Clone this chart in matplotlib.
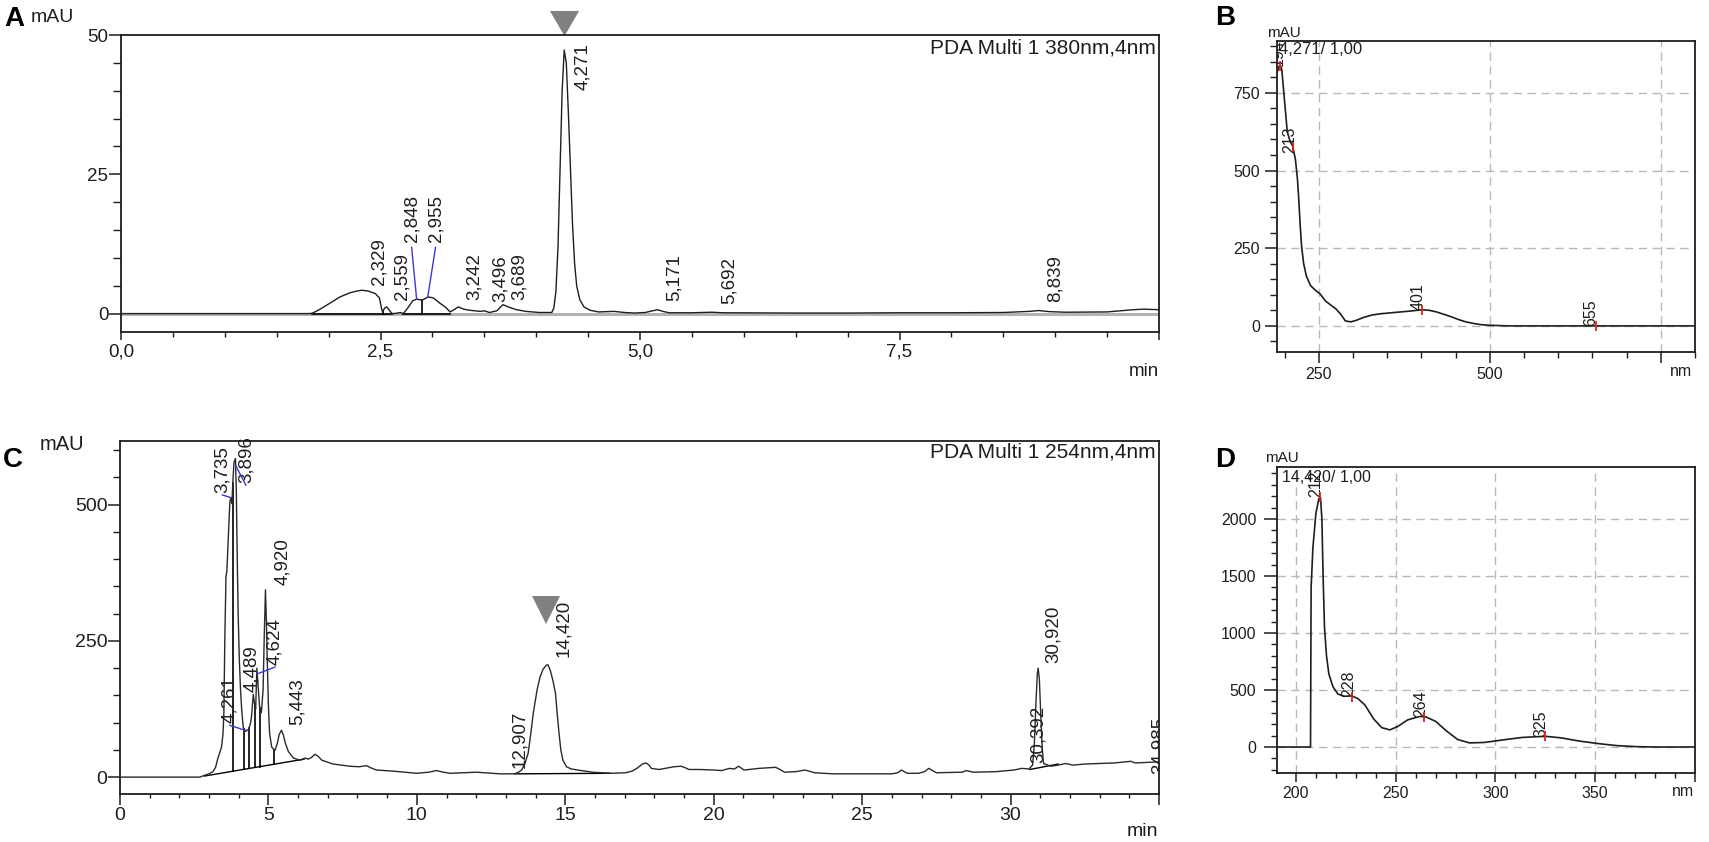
import numpy as np
import matplotlib
matplotlib.use("Agg")
import matplotlib.pyplot as plt
from matplotlib.ticker import MultipleLocator

plt.rcParams['font.family'] = ['Liberation Sans', 'DejaVu Sans']
plt.rcParams['axes.unicode_minus'] = False

# ---------------- DATA ----------------
# Panel A: chromatogram, PDA 380 nm (min, mAU)
A_time = [0.00, 1.00, 1.80, 1.84, 1.90, 1.98, 2.05, 2.11, 2.20, 2.26,
          2.32, 2.38, 2.45, 2.49, 2.51, 2.52, 2.54, 2.56, 2.59, 2.61,
          2.65, 2.69, 2.72, 2.77, 2.81, 2.85, 2.90, 2.96, 3.01, 3.07,
          3.13, 3.17, 3.20, 3.25, 3.30, 3.36, 3.46, 3.50, 3.55, 3.62,
          3.68, 3.73, 3.81, 3.90, 4.03, 4.12, 4.15, 4.17, 4.19, 4.21,
          4.23, 4.25, 4.27, 4.29, 4.31, 4.33, 4.35, 4.37, 4.39, 4.42,
          4.46, 4.52, 4.60, 4.75, 4.85, 4.95, 5.05, 5.12, 5.17, 5.22,
          5.28, 5.50, 5.69, 5.80, 6.50, 7.00, 7.50, 8.00, 8.50, 8.75,
          8.84, 8.95, 9.10, 9.50, 9.75, 9.85, 10.00]
A_signal = [0.0, 0.0, 0.0, 0.05, 0.6, 1.5, 2.3, 3.0, 3.7, 4.0,
            4.2, 4.05, 3.6, 2.8, 0.9, 0.3, 1.0, 1.2, 0.5, 0.0,
            0.05, 0.2, 0.0, 1.2, 2.3, 2.6, 2.4, 3.0, 2.8, 1.9,
            1.1, 0.3, 0.6, 1.2, 0.8, 0.6, 0.4, 0.5, 0.2, 0.5,
            1.6, 1.2, 0.7, 0.4, 0.2, 0.2, 0.2, 1.0, 4.0, 12.0,
            26.0, 40.0, 47.3, 45.0, 36.0, 26.0, 16.0, 9.0, 5.0, 2.5,
            1.2, 0.6, 0.3, 0.4, 0.2, 0.1, 0.2, 0.5, 0.7, 0.4,
            0.15, 0.15, 0.25, 0.15, 0.1, 0.1, 0.15, 0.15, 0.2, 0.4,
            0.55, 0.35, 0.25, 0.3, 0.7, 0.8, 0.7]
A_peak_rt = [2.329, 2.559, 2.848, 2.955, 3.242, 3.496, 3.689, 4.271, 5.171, 5.692, 8.839]
A_peak_text = ["2,329", "2,559", "2,848", "2,955", "3,242", "3,496", "3,689",
               "4,271", "5,171", "5,692", "8,839"]
A_marked_rt = 4.271
A_base_seg = [(1.84, 2.61), (2.72, 3.17)]
A_drop_t = [2.52, 2.90]
A_leader_idx = [2, 3]

# Panel B: UV spectrum of peak 4,271 (nm, mAU)
B_nm = [189, 192, 194, 196, 198, 201, 204, 208, 212, 216,
        219, 221, 223, 225, 228, 232, 238, 245, 252, 260,
        267, 275, 282, 289, 297, 305, 315, 328, 340, 355,
        370, 385, 401, 412, 422, 432, 443, 455, 465, 476,
        487, 500, 515, 530, 560, 600, 650, 700, 750, 800]
B_mau = [815, 836, 838, 825, 775, 700, 625, 595, 578, 535,
         470, 400, 320, 255, 200, 160, 130, 115, 103, 80,
         68, 55, 38, 16, 13, 18, 27, 35, 39, 42,
         45, 48, 52, 50, 45, 38, 30, 20, 13, 8,
         4, 2, 1, 0, 0, 0, 0, 0, 0, 0]
B_peak_nm = [194, 213, 401, 655]
B_peak_mau = [838, 576, 51, 0]
B_peak_text = ["194", "213", "401", "655"]

# Panel C: chromatogram, PDA 254 nm (min, mAU)
C_time = [0.0, 1.0, 2.0, 2.69, 2.83, 3.00, 3.13, 3.22, 3.30, 3.38,
          3.42, 3.47, 3.50, 3.53, 3.57, 3.60, 3.65, 3.70, 3.735, 3.77,
          3.80, 3.84, 3.89, 3.92, 3.95, 3.98, 4.02, 4.06, 4.10, 4.15,
          4.23, 4.28, 4.34, 4.40, 4.43, 4.47, 4.49, 4.53, 4.57, 4.61,
          4.65, 4.70, 4.76, 4.82, 4.86, 4.90, 4.93, 4.96, 5.00, 5.04,
          5.11, 5.22, 5.30, 5.36, 5.44, 5.50, 5.56, 5.67, 5.84, 6.06,
          6.15, 6.23, 6.34, 6.45, 6.57, 6.68, 6.80, 7.18, 7.74, 8.05,
          8.30, 8.45, 8.64, 9.20, 9.99, 10.40, 10.66, 10.90, 11.11, 12.01,
          12.80, 13.30, 13.42, 13.53, 13.64, 13.75, 13.85, 13.92, 14.05, 14.15,
          14.25, 14.37, 14.42, 14.50, 14.58, 14.67, 14.73, 14.79, 14.85, 14.92,
          15.04, 15.20, 15.42, 15.92, 16.54, 17.04, 17.25, 17.41, 17.60, 17.72,
          17.82, 17.90, 18.16, 18.45, 18.66, 18.90, 19.05, 19.16, 19.53, 20.02,
          20.27, 20.53, 20.70, 20.84, 21.02, 21.52, 21.80, 22.08, 22.20, 22.39,
          22.76, 23.08, 23.40, 24.01, 25.26, 26.00, 26.20, 26.32, 26.45, 26.52,
          26.90, 27.10, 27.25, 27.40, 27.50, 28.37, 28.50, 28.75, 29.50, 30.12,
          30.37, 30.62, 30.74, 30.80, 30.85, 30.90, 30.93, 30.97, 31.02, 31.07,
          31.11, 31.36, 31.60, 31.86, 32.10, 32.50, 33.00, 33.50, 34.05, 34.20,
          34.60, 35.00]
C_signal = [0, 0, 0, 0, 3, 6, 10, 18, 35, 48,
            55, 80, 120, 250, 368, 378, 440, 505, 513, 502,
            540, 578, 585, 520, 400, 300, 215, 160, 123, 92,
            84, 86, 88, 100, 111, 140, 152, 135, 125, 200,
            170, 130, 118, 160, 260, 344, 290, 215, 130, 80,
            55, 49, 62, 78, 86, 78, 64, 47, 35, 31,
            33, 35, 33, 36, 42, 38, 31, 24, 20, 19,
            21, 17, 13, 11, 7, 9, 12, 9, 7, 9,
            6, 6, 9, 13, 25, 44, 85, 117, 160, 184,
            198, 206, 206, 195, 178, 154, 115, 80, 50, 31,
            19, 15, 13, 9, 7, 8, 11, 16, 24, 26,
            22, 16, 14, 17, 19, 20, 17, 14, 14, 13,
            12, 16, 15, 20, 13, 16, 17, 18, 15, 9,
            10, 13, 8, 6, 6, 6, 8, 13, 9, 7,
            7, 10, 16, 11, 8, 9, 12, 9, 10, 13,
            16, 15, 22, 60, 130, 190, 200, 180, 110, 50,
            25, 20, 22, 25, 22, 24, 25, 26, 29, 26,
            27, 28]
C_peak_rt = [3.735, 3.896, 4.261, 4.489, 4.624, 4.920, 5.443, 12.907, 14.420, 30.392, 30.920]
C_peak_text = ["3,735", "3,896", "4,261", "4,489", "4,624", "4,920", "5,443",
               "12,907", "14,420", "30,392", "30,920"]
C_marked_rt = 14.420
C_base_seg = [((2.85, 2), (6.2, 33)), ((13.3, 6), (16.5, 7)), ((30.65, 14), (31.6, 24))]
C_drop_t = [3.80, 4.18, 4.35, 4.55, 4.72, 5.19]
C_leader_idx = [0, 1, 2, 4]

# Panel D: UV spectrum of peak 14,420 (nm, mAU)
D_nm = [190.5, 200, 207.3, 207.6, 208.5, 210.0, 211.5, 212.3, 213.0, 213.6,
        214.3, 215.3, 216.5, 218.5, 221, 224, 228, 231, 234.5, 239,
        243, 247, 251, 256, 262, 265, 270, 275.5, 281, 287,
        294.5, 304, 313.5, 325, 333, 342, 352, 361, 371, 380, 400]
D_mau = [0, 0, 0, 1400, 1750, 2050, 2180, 2190, 2000, 1500,
         1050, 800, 640, 530, 465, 445, 448, 425, 370, 245,
         170, 150, 180, 238, 268, 265, 225, 140, 66, 36,
         40, 63, 84, 94, 80, 52, 29, 12, 3, 0, 0]
D_peak_nm = [212, 228, 264, 325]
D_peak_mau = [2190, 441, 266, 94]
D_peak_text = ["212", "228", "264", "325"]

# ---------------- LAYOUT (annotation placement) ----------------
A_label_x = [2.49, 2.71, 2.80, 3.03, 3.40, 3.65, 3.84, 4.45, 5.33, 5.86, 9.00]
A_label_y = [5.2, 2.5, 12.9, 12.9, 2.5, 2.1, 2.5, 40.1, 2.2, 1.8, 2.0]
C_label_x = [3.45, 4.24, 3.70, 4.43, 5.22, 5.47, 5.98, 13.45, 14.94, 30.92, 31.44]
C_label_y = [522, 540, 99, 156, 206, 353, 96, 17, 220, 26, 210]
B_label_x = [191, 208, 395, 648]
B_label_y = [835, 557, 51, 0]
D_label_x = [209.7, 226.6, 262.3, 323]
D_label_y = [2196, 441, 266, 90]

W, H, DPI = 1709, 842, 100
fig = plt.figure(figsize=(W / DPI, H / DPI), dpi=DPI)
fig.patch.set_facecolor('white')
INK = '#1e1e1e'


def rect(l, r, t, b):
    return [l / W, 1 - b / H, (r - l) / W, (b - t) / H]


def fpt(x, y):
    return x / W, 1 - y / H


def style(ax, xmaj, xmin, ymaj, ymin, xpad, ypad, fs):
    for s in ax.spines.values():
        s.set_linewidth(1.3)
        s.set_color(INK)
    ax.tick_params(axis='x', which='major', direction='out', length=xmaj, width=1.1,
                   pad=xpad, labelsize=fs, colors=INK)
    ax.tick_params(axis='x', which='minor', direction='out', length=xmin, width=1.0, colors=INK)
    ax.tick_params(axis='y', which='major', direction='out', length=ymaj, width=1.1,
                   pad=ypad, labelsize=fs, colors=INK)
    ax.tick_params(axis='y', which='minor', direction='out', length=ymin, width=1.0, colors=INK)


TRI_A = [(-1, 0.86), (1, 0.86), (0, -0.86)]

# ---------------- Panel A ----------------
axA = fig.add_axes(rect(121, 1159, 35, 332))
axA.set_xlim(0, 10)
axA.set_ylim(-3.3, 50)
axA.axhline(0, color='#b4b4b4', lw=2.2, zorder=1)
for a, b in A_base_seg:
    axA.plot([a, b], [0, 0], color='black', lw=1.2, zorder=2)
for t in A_drop_t:
    axA.plot([t, t], [0, np.interp(t, A_time, A_signal)], color='black', lw=1.2, zorder=2)
axA.plot(A_time, A_signal, color=INK, lw=1.0, zorder=3)
for i in A_leader_idx:
    axA.plot([A_label_x[i], A_peak_rt[i]],
             [A_label_y[i] - 1.0, np.interp(A_peak_rt[i], A_time, A_signal)],
             color='#3a3acc', lw=1.0, zorder=4)
for x, y, s in zip(A_label_x, A_label_y, A_peak_text):
    axA.text(x, y, s, rotation=90, ha='center', va='bottom', fontsize=13.5, color=INK)
axA.plot([A_marked_rt], [1.042], transform=axA.get_xaxis_transform(), marker=TRI_A,
         ms=21, mew=0, color='#808080', ls='none', clip_on=False)
axA.set_xticks([0, 2.5, 5, 7.5, 10], ["0,0", "2,5", "5,0", "7,5", ""])
axA.xaxis.set_minor_locator(MultipleLocator(0.5))
axA.set_yticks([0, 25, 50], ["0", "25", "50"])
axA.yaxis.set_minor_locator(MultipleLocator(5))
style(axA, 5.8, 3.6, 8.6, 5.8, 2.5, 0.5, 13.5)
axA.text(0.997, 1 - 13 / 297, "PDA Multi 1 380nm,4nm", transform=axA.transAxes,
         ha='right', va='center', fontsize=15, color=INK)
fig.text(*fpt(4, 19), "A", fontsize=20, fontweight='bold', ha='left', va='center', color='black')
fig.text(*fpt(31, 17), "mAU", fontsize=14, ha='left', va='center', color=INK)
fig.text(*fpt(1159, 372), "min", fontsize=13.5, ha='right', va='center', color=INK)

# ---------------- Panel B ----------------
axB = fig.add_axes(rect(1277, 1695, 41, 352))
axB.set_xlim(189, 800)
axB.set_ylim(-84, 917)
axB.set_axisbelow(True)
axB.grid(True, which='major', ls=(0, (6, 4)), color='#b8b8b8', lw=1.0)
axB.plot(B_nm, B_mau, color=INK, lw=1.2, zorder=3)
axB.plot(B_peak_nm, B_peak_mau, ls='none', marker='|', ms=7, mew=1.3, color='#e0201c', zorder=4)
for x, y, s in zip(B_label_x, B_label_y, B_peak_text):
    axB.text(x, y, s, rotation=90, ha='center', va='bottom', fontsize=11.5, color=INK, clip_on=True)
axB.set_xticks([250, 500, 750], ["250", "500", ""])
axB.xaxis.set_minor_locator(MultipleLocator(50))
axB.set_yticks([0, 250, 500, 750], ["0", "250", "500", "750"])
axB.yaxis.set_minor_locator(MultipleLocator(50))
style(axB, 8, 4.3, 8.6, 5, 2.5, 3.6, 11.5)
axB.text(0.005, 0.974, "4,271/ 1,00", transform=axB.transAxes, ha='left', va='center',
         fontsize=12, color=INK)
fig.text(*fpt(1215, 18), "B", fontsize=20, fontweight='bold', ha='left', va='center', color='black')
fig.text(*fpt(1267, 33), "mAU", fontsize=11, ha='left', va='center', color=INK)
fig.text(*fpt(1692, 372), "nm", fontsize=11.5, ha='right', va='center', color=INK)

# ---------------- Panel C ----------------
axC = fig.add_axes(rect(120, 1159, 441, 794))
axC.set_xlim(0, 35)
axC.set_ylim(-31, 617)
for (x0, y0), (x1, y1) in C_base_seg:
    axC.plot([x0, x1], [y0, y1], color='black', lw=1.0, zorder=2)
b0, b1 = C_base_seg[0]
for t in C_drop_t:
    base = np.interp(t, [b0[0], b1[0]], [b0[1], b1[1]])
    axC.plot([t, t], [base, np.interp(t, C_time, C_signal)], color='black', lw=1.2, zorder=2)
axC.plot(C_time, C_signal, color='#2a2a2a', lw=1.0, zorder=3)
for i in C_leader_idx:
    axC.plot([C_label_x[i], C_peak_rt[i]],
             [C_label_y[i] - 4, np.interp(C_peak_rt[i], C_time, C_signal)],
             color='#3a3acc', lw=1.0, zorder=4)
for x, y, s in zip(C_label_x, C_label_y, C_peak_text):
    axC.text(x, y, s, rotation=90, ha='center', va='bottom', fontsize=13.5, color=INK)
axC.text(35.0, 5, "34,985", rotation=90, ha='center', va='bottom', fontsize=13.5,
         color=INK, clip_on=True)
c_apex = np.interp(C_marked_rt, C_time, C_signal)
axC.plot([C_marked_rt - 0.07], [c_apex + 101], marker='v', ms=19.5, mew=0, color='#808080',
         ls='none', zorder=5)
axC.set_xticks(list(range(0, 36, 5)), ["0", "5", "10", "15", "20", "25", "30", ""])
axC.xaxis.set_minor_locator(MultipleLocator(1))
axC.set_yticks([0, 250, 500], ["0", "250", "500"])
axC.yaxis.set_minor_locator(MultipleLocator(50))
style(axC, 8, 3, 8.6, 5, 1.5, 0.5, 14)
axC.text(0.997, 1 - 11 / 353, "PDA Multi 1 254nm,4nm", transform=axC.transAxes,
         ha='right', va='center', fontsize=15, color=INK)
fig.text(*fpt(3, 460), "C", fontsize=20, fontweight='bold', ha='left', va='center', color='black')
fig.text(*fpt(40, 445), "mAU", fontsize=14.5, ha='left', va='center', color=INK)
fig.text(*fpt(1158, 832), "min", fontsize=14, ha='right', va='center', color=INK)

# ---------------- Panel D ----------------
axD = fig.add_axes(rect(1277, 1695, 467, 773))
axD.set_xlim(190.5, 400)
axD.set_ylim(-228, 2456)
axD.set_axisbelow(True)
axD.grid(True, which='major', ls=(0, (6, 4)), color='#b8b8b8', lw=1.0)
axD.plot(D_nm, D_mau, color=INK, lw=1.2, zorder=3)
axD.plot(D_peak_nm, D_peak_mau, ls='none', marker='|', ms=7, mew=1.3, color='#e0201c', zorder=4)
for x, y, s in zip(D_label_x, D_label_y, D_peak_text):
    axD.text(x, y, s, rotation=90, ha='center', va='bottom', fontsize=11.5, color=INK, clip_on=True)
axD.set_xticks([200, 250, 300, 350, 400], ["200", "250", "300", "350", ""])
axD.xaxis.set_minor_locator(MultipleLocator(10))
axD.set_yticks([0, 500, 1000, 1500, 2000], ["0", "500", "1000", "1500", "2000"])
axD.yaxis.set_minor_locator(MultipleLocator(100))
style(axD, 6.5, 3.6, 9.5, 4.3, 3, 5.5, 11.5)
axD.text(0.012, 0.967, "14,420/ 1,00", transform=axD.transAxes, ha='left', va='center',
         fontsize=11.5, color=INK)
fig.text(*fpt(1215, 460), "D", fontsize=20, fontweight='bold', ha='left', va='center', color='black')
fig.text(*fpt(1265, 458), "mAU", fontsize=11, ha='left', va='center', color=INK)
fig.text(*fpt(1694, 792), "nm", fontsize=11.5, ha='right', va='center', color=INK)

fig.savefig("out.png", dpi=DPI, facecolor='white')
